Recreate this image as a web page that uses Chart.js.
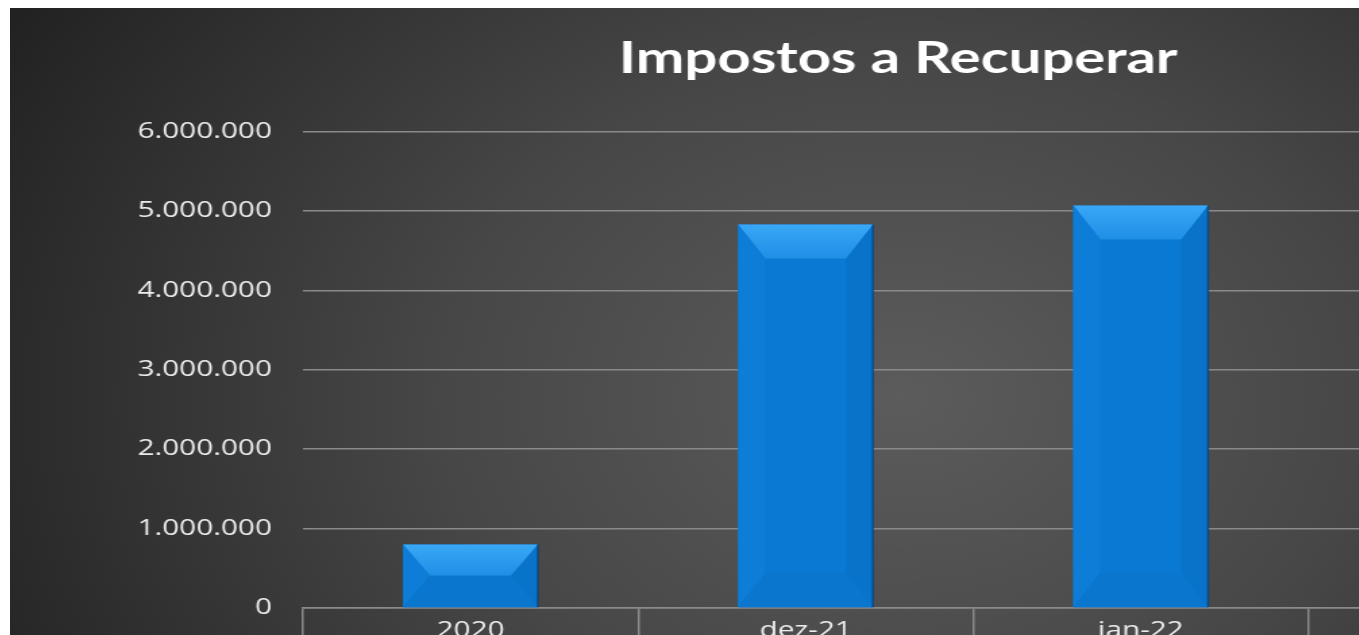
<!DOCTYPE html>
<html>
<head>
<meta charset="utf-8">
<title>Impostos a Recuperar</title>
<script src="https://cdn.jsdelivr.net/npm/chart.js@4.4.1/dist/chart.umd.min.js"></script>
<style>
  html, body { margin: 0; padding: 0; background: #fff; overflow: hidden; width: 1359px; height: 635px; }
  /* the original picture is stretched sideways, so the whole chart is too */
  #wrap { position: absolute; left: 10px; top: 8px; width: 1316px; height: 660px; transform: scaleX(1.35); transform-origin: 0 0; }
</style>
</head>
<body>
<div id="wrap"><canvas id="myChart" width="1316" height="660"></canvas></div>
<script>
// data (the last category lies outside the crop)
const categorias = ['2020', 'dez-21', 'jan-22', ''];
const valores = [800000, 4830000, 5070000, null];
const yMin = 0;
const yMax = 6000000;
const yPasso = 1000000;

const corTexto = '#ececec';
const corGrade = '#8a8a8a';

function formatar(v) {
    return String(v).replace(/\B(?=(\d{3})+(?!\d))/g, '.');
}

const fundo = {
    id: 'fundo',
    beforeDraw(chart) {
        const { ctx, width, height } = chart;
        const g = ctx.createRadialGradient(660, 390, 0, 660, 390, 760);
        g.addColorStop(0, '#5c5c5c');
        g.addColorStop(0.45, '#474747');
        g.addColorStop(1, '#222222');
        ctx.save();
        ctx.fillStyle = g;
        ctx.fillRect(0, 0, width, height);
        ctx.restore();
    }
};

// bevel on each bar, like the Excel "angle" effect
const bisel = {
    id: 'bisel',
    afterDatasetsDraw(chart) {
        const ctx = chart.ctx;
        chart.getDatasetMeta(0).data.forEach(bar => {
            const p = bar.getProps(['x', 'y', 'base', 'width'], true);
            if (p.y == null || isNaN(p.y)) return;
            const l = p.x - p.width / 2, r = p.x + p.width / 2;
            const t = Math.min(p.y, p.base), b = Math.max(p.y, p.base);
            const dx = Math.min(20, p.width / 2), dy = Math.min(34, (b - t) / 2);
            const poly = (pts, fill) => {
                ctx.beginPath();
                ctx.moveTo(pts[0][0], pts[0][1]);
                pts.slice(1).forEach(q => ctx.lineTo(q[0], q[1]));
                ctx.closePath();
                ctx.fillStyle = fill;
                ctx.fill();
            };
            ctx.save();
            const gTopo = ctx.createLinearGradient(0, t, 0, t + dy);
            gTopo.addColorStop(0, '#3aa8f6');
            gTopo.addColorStop(1, '#1f8ee6');
            poly([[l, t], [r, t], [r - dx, t + dy], [l + dx, t + dy]], gTopo);
            poly([[l, t], [l + dx, t + dy], [l + dx, b - dy], [l, b]], '#0d7dd7');
            poly([[r, t], [r, b], [r - dx, b - dy], [r - dx, t + dy]], '#0973ca');
            poly([[l, b], [l + dx, b - dy], [r - dx, b - dy], [r, b]], '#0a76ce');
            // thin dark edge on the right, as the bar's shadow
            ctx.fillStyle = 'rgba(0,40,90,0.5)';
            ctx.fillRect(r - 1, t, 1.5, b - t);
            ctx.restore();
        });
    }
};

const ctx = document.getElementById('myChart');

const myChart = new Chart(ctx, {
    type: 'bar',
    data: {
        labels: categorias,
        datasets: [{
            label: 'Impostos a Recuperar',
            data: valores,
            backgroundColor: '#0a79d3',
            borderWidth: 0,
            categoryPercentage: 1,
            barPercentage: 0.403
        }]
    },
    options: {
        responsive: false,
        animation: false,
        layout: { padding: { left: 0, right: 0, top: 0, bottom: 24 } },
        plugins: {
            legend: { display: false },
            tooltip: { enabled: false },
            title: {
                display: true,
                text: 'Impostos a Recuperar',
                color: '#ffffff',
                font: { family: 'Lato', size: 43, weight: 'bold' },
                padding: { top: 25, bottom: 47 }
            }
        },
        scales: {
            x: {
                afterFit(scale) { scale.height = 36; },
                grid: { drawOnChartArea: false, drawTicks: true, tickLength: 40, color: corGrade, lineWidth: 1.5 },
                border: { display: true, color: corGrade, width: 1.5 },
                ticks: { color: corTexto, padding: -30, font: { family: 'Open Sans', size: 22 } }
            },
            y: {
                min: yMin,
                max: yMax,
                afterFit(scale) { scale.width = 217; },
                grid: { color: corGrade, lineWidth: 1.5, drawTicks: false },
                border: { display: false },
                ticks: {
                    stepSize: yPasso,
                    color: corTexto,
                    padding: 23,
                    font: { family: 'Open Sans', size: 22 },
                    callback: v => formatar(v)
                }
            },
            // empty space on the right of the plot area
            margem: {
                type: 'linear',
                position: 'right',
                afterFit(scale) { scale.width = 106; },
                grid: { display: false },
                border: { display: false },
                ticks: { display: false }
            }
        }
    },
    plugins: [fundo, bisel]
});
</script>
</body>
</html>
